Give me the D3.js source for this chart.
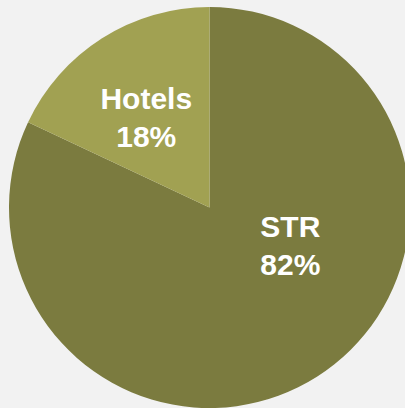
<html>
<head>
<script src="https://d3js.org/d3.v7.min.js" charset="utf-8"></script>
<style>
  html, body { margin: 0; padding: 0; background: #f2f2f2; }
  svg { display: block; }
</style>
</head>
<body>
<div id="chart"></div>
<script>
var categories = ["STR", "Hotels"];
var shares = [82, 18];
var colors = ["#7b7b3f", "#a1a152"];

var width = 405, height = 408;
var cx = 209.5, cy = 207.5, radius = 200.5;

var svg = d3.select("#chart").append("svg")
    .attr("width", width)
    .attr("height", height);

var g = svg.append("g").attr("transform", "translate(" + cx + "," + cy + ")");

var pie = d3.pie().sort(null).value(function(d) { return d; });
var arc = d3.arc().innerRadius(0).outerRadius(radius);
var arcs = pie(shares);

g.selectAll("path")
    .data(arcs)
    .enter().append("path")
    .attr("d", arc)
    .attr("fill", function(d, i) { return colors[i]; });

// label placement: angle (deg from top, clockwise) and distance from centre
var labelAt = [{ a: 115, r: 0.445 }, { a: -35, r: 0.55 }];

var labels = g.selectAll("text.lbl")
    .data(arcs)
    .enter().append("text")
    .attr("class", "lbl")
    .attr("text-anchor", "middle")
    .style("font-family", "Liberation Sans, Arial, sans-serif")
    .style("font-weight", "bold")
    .style("font-size", "30px")
    .style("fill", "#ffffff")
    .attr("transform", function(d, i) {
        var t = labelAt[i].a * Math.PI / 180, r = labelAt[i].r * radius;
        return "translate(" + (r * Math.sin(t)) + "," + (-r * Math.cos(t)) + ")";
    });

labels.append("tspan").attr("x", 0).attr("dy", "-0.28em")
    .text(function(d, i) { return categories[i]; });
labels.append("tspan").attr("x", 0).attr("dy", "1.28em")
    .text(function(d, i) { return shares[i] + "%"; });
</script>
</body>
</html>
